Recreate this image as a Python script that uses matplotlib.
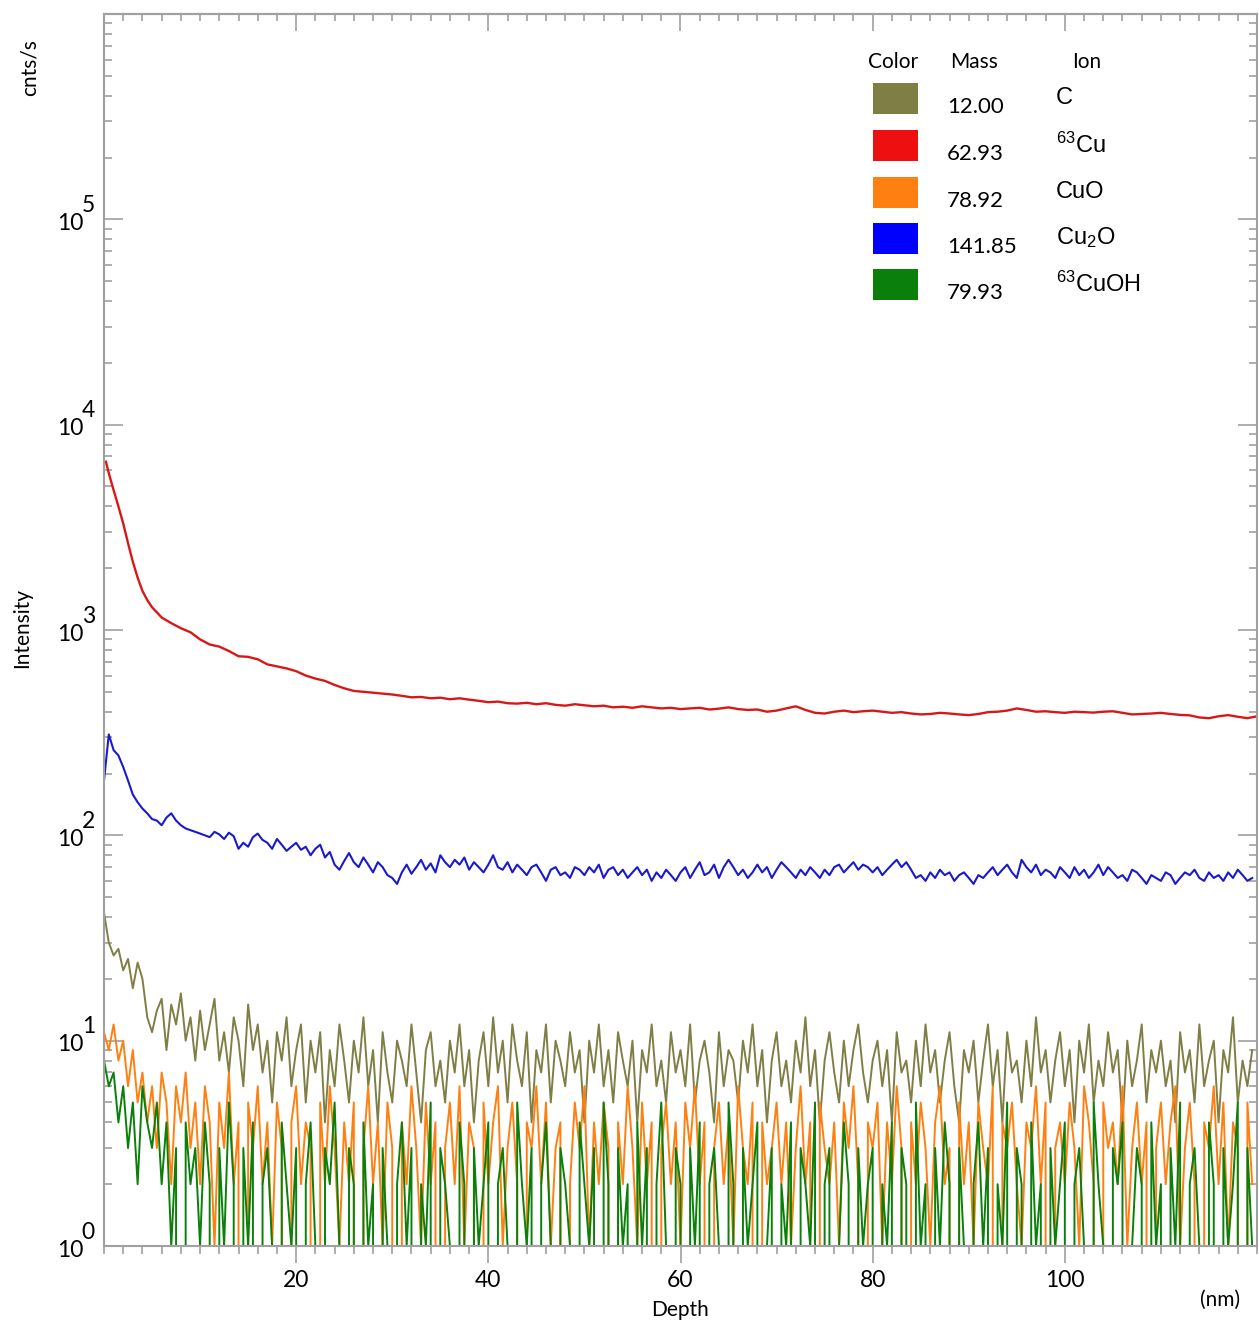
import numpy as np
import matplotlib
matplotlib.use('Agg')
import matplotlib.pyplot as plt
from matplotlib.patches import Rectangle
from matplotlib.ticker import LogLocator, MultipleLocator, FixedLocator, NullFormatter

plt.rcParams['font.family'] = ['Lato', 'DejaVu Sans']
plt.rcParams['mathtext.default'] = 'regular'

# ---- data ----
# noisy low-count signals, sampled every 0.5 nm from 0 to 119.5 nm
step = 0.5
c_counts = [
    42, 30, 26, 28, 22, 25, 18, 24, 20, 13, 11, 14, 16, 9, 15, 12, 17, 10, 13, 8,
    14, 9, 12, 16, 8, 11, 7, 13, 10, 6, 15, 9, 12, 7, 10, 5, 11, 8, 13, 6,
    9, 12, 5, 10, 7, 11, 4, 9, 6, 12, 8, 5, 10, 7, 13, 6, 9, 4, 11, 7,
    5, 10, 8, 6, 12, 7, 4, 9, 11, 6, 8, 5, 10, 7, 12, 6, 9, 4, 8, 11,
    6, 13, 7, 10, 5, 12, 8, 6, 11, 4, 9, 7, 12, 5, 10, 8, 6, 11, 7, 9,
    4, 10, 7, 12, 6, 9, 5, 11, 8, 6, 10, 4, 9, 7, 12, 6, 8, 5, 11, 7,
    9, 6, 12, 5, 8, 10, 7, 4, 11, 6, 9, 8, 5, 10, 7, 12, 6, 9, 4, 8,
    11, 6, 8, 5, 10, 7, 13, 6, 9, 4, 8, 11, 7, 5, 10, 6, 9, 12, 7, 5,
    8, 10, 6, 9, 4, 11, 7, 8, 5, 10, 6, 12, 7, 9, 5, 8, 11, 6, 4, 9,
    7, 10, 5, 8, 12, 6, 9, 4, 11, 7, 8, 5, 10, 6, 13, 7, 9, 5, 8, 11,
    6, 9, 4, 10, 7, 12, 5, 8, 6, 11, 7, 9, 4, 10, 6, 8, 12, 5, 9, 7,
    10, 6, 8, 4, 11, 7, 9, 5, 12, 6, 8, 10, 4, 9, 7, 13, 5, 8, 6, 9,
]
cuo_counts = [
    11, 9, 12, 8, 10, 6, 9, 5, 7, 4, 6, 3, 7, 5, 2, 6, 4, 7, 3, 5,
    2, 6, 4, 1, 5, 3, 7, 2, 4, 0, 5, 3, 6, 2, 4, 1, 5, 3, 0, 4,
    6, 2, 4, 3, 0, 5, 2, 6, 3, 1, 4, 2, 5, 0, 3, 6, 2, 4, 1, 5,
    3, 0, 4, 2, 6, 3, 1, 5, 2, 4, 0, 3, 5, 2, 6, 1, 4, 3, 0, 5,
    2, 4, 6, 1, 3, 5, 2, 0, 4, 3, 6, 2, 5, 1, 3, 4, 0, 2, 5, 3,
    6, 1, 4, 2, 5, 3, 0, 4, 2, 6, 3, 1, 5, 2, 4, 0, 3, 5, 2, 4,
    1, 5, 3, 6, 2, 4, 0, 3, 5, 2, 4, 1, 6, 3, 2, 5, 0, 4, 2, 3,
    5, 2, 4, 1, 3, 6, 2, 4, 0, 5, 3, 2, 4, 1, 5, 3, 6, 2, 0, 4,
    3, 5, 1, 4, 2, 6, 3, 0, 4, 2, 5, 3, 1, 4, 6, 2, 3, 0, 5, 2,
    4, 1, 5, 3, 2, 6, 0, 4, 3, 5, 2, 1, 4, 3, 6, 2, 5, 0, 3, 4,
    2, 5, 3, 1, 6, 4, 2, 0, 5, 3, 4, 2, 6, 1, 3, 5, 2, 4, 0, 3,
    5, 2, 4, 6, 1, 3, 5, 2, 0, 4, 3, 6, 2, 5, 1, 4, 3, 0, 5, 2,
]
cuoh_counts = [
    8, 6, 7, 4, 6, 3, 5, 2, 6, 4, 3, 5, 2, 4, 1, 3, 0, 4, 2, 3,
    1, 4, 2, 0, 3, 1, 5, 2, 0, 3, 1, 4, 0, 2, 3, 1, 0, 4, 2, 1,
    3, 0, 2, 4, 1, 0, 3, 2, 5, 1, 0, 3, 2, 0, 4, 1, 2, 0, 3, 1,
    0, 2, 4, 1, 3, 0, 2, 1, 5, 0, 3, 2, 1, 0, 4, 2, 0, 3, 1, 2,
    4, 0, 2, 3, 1, 0, 5, 2, 1, 3, 0, 2, 4, 1, 0, 3, 2, 1, 0, 4,
    2, 1, 3, 0, 5, 2, 0, 3, 1, 2, 0, 4, 1, 3, 0, 2, 5, 1, 0, 3,
    2, 0, 3, 1, 4, 0, 2, 3, 1, 0, 5, 2, 0, 3, 1, 2, 4, 0, 1, 3,
    0, 2, 1, 4, 0, 3, 2, 1, 5, 0, 2, 3, 0, 1, 4, 2, 0, 3, 1, 2,
    3, 0, 2, 1, 4, 0, 3, 2, 0, 5, 1, 2, 0, 3, 1, 4, 2, 0, 3, 1,
    0, 2, 4, 1, 3, 0, 2, 1, 5, 0, 3, 2, 0, 4, 1, 2, 0, 3, 1, 2,
    4, 0, 2, 3, 1, 0, 5, 2, 1, 0, 3, 2, 4, 0, 1, 3, 2, 0, 4, 1,
    2, 0, 3, 1, 5, 0, 2, 3, 1, 0, 4, 2, 0, 3, 1, 2, 5, 0, 3, 1,
]
cu2o_counts = [
    185, 310, 260, 245, 215, 185, 158, 145, 135, 128, 120, 118, 112, 122, 128, 118, 112, 108, 106, 104,
    102, 100, 98, 104, 101, 96, 103, 99, 86, 92, 88, 98, 102, 95, 92, 86, 96, 90, 84, 88,
    92, 85, 88, 80, 86, 90, 78, 83, 72, 68, 75, 82, 74, 70, 78, 72, 66, 74, 70, 64,
    62, 58, 66, 72, 65, 70, 76, 68, 73, 66, 80, 74, 70, 76, 72, 78, 68, 74, 70, 66,
    72, 80, 70, 68, 74, 66, 72, 68, 64, 70, 72, 66, 60, 68, 70, 64, 66, 62, 70, 68,
    64, 70, 66, 72, 62, 68, 70, 64, 68, 62, 66, 70, 64, 68, 60, 66, 62, 68, 64, 60,
    66, 70, 62, 68, 74, 64, 66, 72, 62, 70, 76, 70, 64, 68, 62, 66, 72, 66, 70, 62,
    68, 74, 70, 66, 62, 68, 64, 70, 66, 62, 68, 64, 70, 72, 66, 70, 74, 68, 72, 70,
    66, 70, 64, 68, 72, 76, 70, 74, 68, 62, 64, 60, 66, 62, 68, 64, 66, 60, 64, 66,
    62, 58, 64, 62, 66, 70, 64, 68, 72, 66, 62, 76, 70, 66, 72, 64, 68, 66, 62, 70,
    66, 62, 70, 64, 68, 62, 66, 72, 64, 70, 66, 62, 64, 60, 68, 66, 62, 58, 64, 62,
    60, 66, 64, 58, 62, 66, 64, 68, 62, 60, 66, 62, 64, 60, 66, 62, 68, 64, 60, 62,
]

# 63Cu: fine sampling near the surface, then every 1 nm
cu_depth = [0.2, 0.5, 1, 1.5, 2, 2.5, 3, 3.5, 4, 4.5, 5, 5.5] + list(range(6, 121))
cu_counts = [
    6600, 5800, 4800, 4000, 3300, 2650, 2150, 1800, 1550, 1400, 1290, 1220,
    1150, 1080, 1020, 975, 900, 850, 830, 790, 745, 740, 720, 680, 665, 650, 630,
    600, 580, 565, 540, 520, 505, 500, 495, 490, 485, 478, 470, 472, 465, 468,
    460, 465, 458, 452, 445, 448, 440, 438, 442, 435, 440, 432, 428, 435, 430,
    425, 428, 420, 423, 418, 425, 420, 415, 418, 412, 415, 418, 410, 414, 420,
    412, 408, 410, 400, 405, 415, 425, 408, 395, 392, 400, 405, 398, 402, 405,
    400, 395, 398, 392, 388, 390, 395, 392, 388, 385, 390, 398, 400, 405, 415,
    408, 400, 402, 398, 395, 400, 398, 396, 400, 402, 395, 388, 390, 392, 395,
    390, 386, 384, 375, 372, 380, 385, 378, 372, 380,
]

legend_colors = ['#7f7f45', '#ee1010', '#ff8010', '#0000ff', '#0a7f0a']
legend_mass = ['12.00', '62.93', '78.92', '141.85', '79.93']
legend_ion = ['C', r'$^{63}$Cu', 'CuO', r'Cu$_2$O', r'$^{63}$CuOH']
y_exponents = [0, 1, 2, 3, 4, 5]

depth = np.arange(len(c_counts)) * step

W, H = 1259, 1323
fig = plt.figure(figsize=(W / 100, H / 100), dpi=100)
ax = fig.add_axes([104 / W, 1 - 1246 / H, (1257 - 104) / W, (1246 - 14) / H])

ax.plot(depth, c_counts, color='#7f7f45', lw=1.4)
ax.plot(cu_depth, cu_counts, color='#d81818', lw=1.7)
ax.plot(depth, cuo_counts, color='#ff8010', lw=1.4)
ax.plot(depth, cu2o_counts, color='#1a1acc', lw=1.5)
ax.plot(depth, cuoh_counts, color='#0a800a', lw=1.4)

ax.set_yscale('log')
ax.set_xlim(0, 120)
ax.set_ylim(1, 1e6)

ax.yaxis.set_major_locator(FixedLocator([10.0 ** e for e in y_exponents]))
ax.yaxis.set_major_formatter(NullFormatter())
ax.yaxis.set_minor_locator(LogLocator(base=10, subs=np.arange(2, 10), numticks=20))
ax.yaxis.set_minor_formatter(NullFormatter())
ax.xaxis.set_major_locator(FixedLocator([20, 40, 60, 80, 100]))
ax.xaxis.set_minor_locator(MultipleLocator(2))

grey = '#a0a0a0'
for s in ax.spines.values():
    s.set_color(grey)
    s.set_linewidth(1.5)
ax.tick_params(axis='y', which='both', direction='in', left=True, right=True, color=grey, width=1.2)
ax.tick_params(axis='y', which='major', length=14)
ax.tick_params(axis='y', which='minor', length=6)
ax.tick_params(axis='x', which='both', direction='out', top=False, color=grey, width=1.2)
ax.tick_params(axis='x', which='major', length=12, labelsize=16.5, pad=5)
ax.tick_params(axis='x', which='minor', length=6)

# top ticks pointing in
top = ax.secondary_xaxis('top')
top.xaxis.set_major_locator(FixedLocator([20, 40, 60, 80, 100]))
top.xaxis.set_minor_locator(MultipleLocator(2))
top.tick_params(which='both', direction='in', color=grey, width=1.2, labeltop=False)
top.tick_params(which='major', length=12)
top.tick_params(which='minor', length=5)
top.spines['top'].set_color(grey)
top.spines['top'].set_linewidth(1.5)

# y labels as "10" with a large raised exponent
for e in y_exponents:
    ax.annotate('10', xy=(0, 10.0 ** e), xycoords=('axes fraction', 'data'),
                xytext=(-15, -3), textcoords='offset points',
                ha='right', va='center', fontsize=16.5)
    ax.annotate(str(e), xy=(0, 10.0 ** e), xycoords=('axes fraction', 'data'),
                xytext=(-16, 10), textcoords='offset points',
                ha='left', va='center', fontsize=16.5)


def px(x, y):
    return x / W, 1 - y / H


fig.text(*px(680, 1310), 'Depth', ha='center', va='center', fontsize=15)
fig.text(*px(1220, 1300), '(nm)', ha='center', va='center', fontsize=15)
fig.text(*px(22, 628), 'Intensity', ha='center', va='center', fontsize=15, rotation=90)
fig.text(*px(30, 68), 'cnts/s', ha='center', va='center', fontsize=15, rotation=90)

# legend table
fig.text(*px(893, 62), 'Color', ha='center', va='center', fontsize=15)
fig.text(*px(974, 62), 'Mass', ha='center', va='center', fontsize=15)
fig.text(*px(1087, 62), 'Ion', ha='center', va='center', fontsize=15)
row_top = [83, 130, 177, 223, 269]
for i in range(len(legend_mass)):
    x0, y0 = px(873, row_top[i] + 31)
    fig.add_artist(Rectangle((x0, y0), 45 / W, 31 / H, transform=fig.transFigure,
                             facecolor=legend_colors[i], edgecolor='none'))
    fig.text(*px(947, row_top[i] + 24), legend_mass[i], ha='left', va='center', fontsize=16)
    fig.text(*px(1056, row_top[i] + 15), legend_ion[i], ha='left', va='center', fontsize=17,
             family='Liberation Sans')

fig.savefig('out.png', dpi=100)
